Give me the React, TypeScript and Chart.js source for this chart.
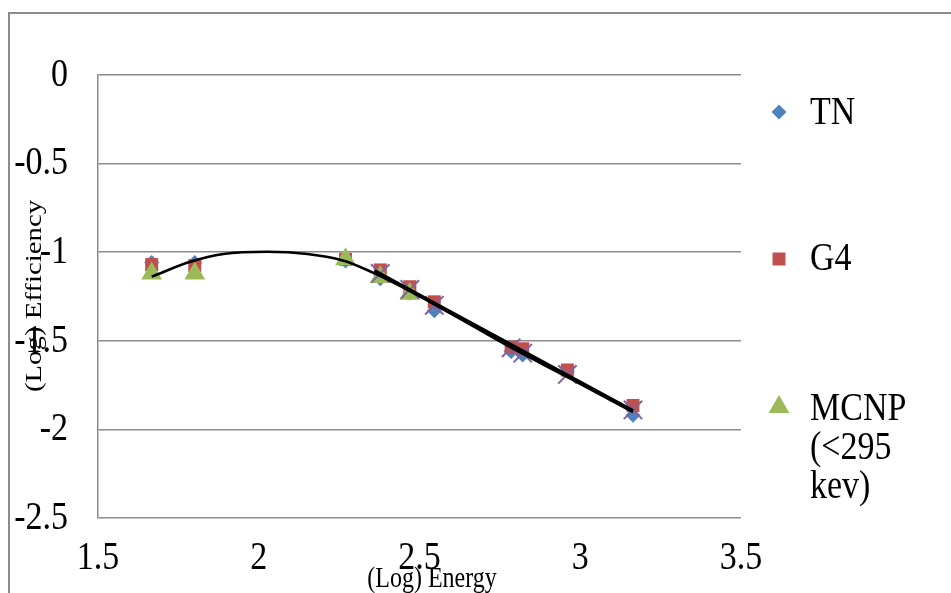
import React, { useEffect, useRef } from "react";
import { Chart, registerables } from "chart.js";

Chart.register(...registerables);

// ---- Data ----
const energyLog = [1.667, 1.801, 2.27, 2.378, 2.47, 2.546, 2.785, 2.821, 2.96, 3.164];
const tnValues = [-1.058, -1.058, -1.05, -1.15, -1.23, -1.33, -1.56, -1.58, -1.67, -1.92];
const g4Values = [-1.07, -1.075, -1.04, -1.1, -1.195, -1.28, -1.535, -1.545, -1.665, -1.865];
const mcnpEnergyLog = [1.667, 1.801, 2.27, 2.378, 2.47];
const mcnpValues = [-1.12, -1.12, -1.04, -1.14, -1.235];
const crossEnergyLog = [2.378, 2.47, 2.546, 2.785, 2.821, 2.96, 3.164];
const crossValues = [-1.12, -1.21, -1.3, -1.54, -1.57, -1.69, -1.89];
const curveEnergyLog = [1.667, 1.787, 1.89, 2.027, 2.151, 2.264, 2.355, 2.439, 2.533, 2.635, 2.781, 2.959, 3.164];
const curveValues = [-1.138, -1.054, -1.01, -0.997, -1.01, -1.048, -1.115, -1.19, -1.282, -1.385, -1.535, -1.704, -1.902];
const lineEnergyLog = [2.36, 3.164];
const lineValues = [-1.105, -1.895];

const xTickValues = [1.5, 2, 2.5, 3, 3.5];
const xTickLabels = ["1.5", "2", "2.5", "3", "3.5"];
const yTickValues = [0, -0.5, -1, -1.5, -2, -2.5];
const yTickLabels = ["0", "-0.5", "-1", "-1.5", "-2", "-2.5"];

const legendLabels = [["TN"], ["G4"], ["MCNP", "(<295", "kev)"]];

const BLUE = "#4F81BD";
const RED = "#C0504D";
const GREEN = "#9BBB59";
const PURPLE = "#8064A2";
const GRID = "#8c8c8c";
const FONT = '"Liberation Serif", "Times New Roman", serif';

const toPoints = (xs: number[], ys: number[]) => xs.map((x, i) => ({ x, y: ys[i] }));

function stretchedText(
  ctx: CanvasRenderingContext2D,
  text: string,
  x: number,
  y: number,
  size: number,
  align: CanvasTextAlign,
  rotate = false
) {
  ctx.save();
  ctx.translate(x, y);
  if (rotate) {
    ctx.rotate(-Math.PI / 2);
    ctx.scale(1.2, 1);
  } else {
    ctx.scale(1, 1.2);
  }
  ctx.font = `${size}px ${FONT}`;
  ctx.fillStyle = "#000";
  ctx.textAlign = align;
  ctx.textBaseline = "middle";
  ctx.fillText(text, 0, 0);
  ctx.restore();
}

const decorPlugin = {
  id: "decor",
  beforeDraw(chart: any) {
    const ctx: CanvasRenderingContext2D = chart.ctx;
    ctx.save();
    ctx.fillStyle = "#fff";
    ctx.fillRect(0, 0, chart.width, chart.height);
    ctx.strokeStyle = GRID;
    ctx.lineWidth = 2;
    ctx.beginPath();
    ctx.moveTo(9, chart.height);
    ctx.lineTo(9, 13);
    ctx.lineTo(chart.width, 13);
    ctx.stroke();
    ctx.restore();
  },
  afterDraw(chart: any) {
    const ctx: CanvasRenderingContext2D = chart.ctx;
    const xs = chart.scales.x;
    const ys = chart.scales.y;
    // tick labels
    yTickValues.forEach((v, i) => {
      stretchedText(ctx, yTickLabels[i], 68, ys.getPixelForValue(v), 34, "right");
    });
    xTickValues.forEach((v, i) => {
      stretchedText(ctx, xTickLabels[i], xs.getPixelForValue(v), 558, 34, "center");
    });
    // axis titles
    stretchedText(ctx, "(Log) Energy", 432, 579, 24, "center");
    stretchedText(ctx, "(Log) Efficiency", 35, 296, 24, "center", true);

    // legend
    const symX = 779;
    const textX = 810;
    ctx.save();
    // diamond
    ctx.fillStyle = BLUE;
    ctx.beginPath();
    ctx.moveTo(symX, 112 - 7.5);
    ctx.lineTo(symX + 7.5, 112);
    ctx.lineTo(symX, 112 + 7.5);
    ctx.lineTo(symX - 7.5, 112);
    ctx.closePath();
    ctx.fill();
    // square
    ctx.fillStyle = RED;
    ctx.fillRect(symX - 6.5, 259 - 6.5, 13, 13);
    // triangle
    ctx.fillStyle = GREEN;
    const ty = 407;
    const r = 12;
    ctx.beginPath();
    ctx.moveTo(symX, ty - r);
    ctx.lineTo(symX + r * 0.866, ty + r / 2);
    ctx.lineTo(symX - r * 0.866, ty + r / 2);
    ctx.closePath();
    ctx.fill();
    ctx.restore();

    stretchedText(ctx, legendLabels[0][0], textX, 113, 34, "left");
    stretchedText(ctx, legendLabels[1][0], textX, 259, 34, "left");
    legendLabels[2].forEach((t, i) => {
      stretchedText(ctx, t, textX, 409 + i * 39, 34, "left");
    });
  },
};

export default function App() {
  const ref = useRef<HTMLCanvasElement>(null);

  useEffect(() => {
    document.body.style.margin = "0";
    const canvas = ref.current;
    if (!canvas) return;
    const chart = new Chart(canvas, {
      type: "scatter",
      data: {
        datasets: [
          {
            label: "Poly trend",
            data: toPoints(curveEnergyLog, curveValues),
            showLine: true,
            borderColor: "#000",
            borderWidth: 2.5,
            pointRadius: 0,
            cubicInterpolationMode: "monotone",
            order: 0,
          } as any,
          {
            label: "Linear trend",
            data: toPoints(lineEnergyLog, lineValues),
            showLine: true,
            borderColor: "#000",
            borderWidth: 3.5,
            pointRadius: 0,
            order: 1,
          },
          {
            label: "Series 4",
            data: toPoints(crossEnergyLog, crossValues),
            pointStyle: "crossRot",
            pointRadius: 13,
            borderColor: PURPLE,
            borderWidth: 2,
            backgroundColor: PURPLE,
            order: 2,
          },
          {
            label: "MCNP (<295 kev)",
            data: toPoints(mcnpEnergyLog, mcnpValues),
            pointStyle: "triangle",
            pointRadius: 12,
            backgroundColor: GREEN,
            borderColor: GREEN,
            borderWidth: 0,
            order: 3,
          },
          {
            label: "G4",
            data: toPoints(energyLog, g4Values),
            pointStyle: "rect",
            pointRadius: 9.2,
            backgroundColor: RED,
            borderColor: RED,
            borderWidth: 0,
            order: 4,
          },
          {
            label: "TN",
            data: toPoints(energyLog, tnValues),
            pointStyle: "rectRot",
            pointRadius: 7.5,
            backgroundColor: BLUE,
            borderColor: BLUE,
            borderWidth: 0,
            order: 5,
          },
        ],
      },
      options: {
        animation: false,
        responsive: false,
        devicePixelRatio: 1,
        events: [],
        layout: { padding: { left: 0, top: 75, right: 210, bottom: 0 } },
        plugins: {
          legend: { display: false },
          tooltip: { enabled: false },
          title: { display: false },
        },
        scales: {
          x: {
            type: "linear",
            min: 1.5,
            max: 3.5,
            ticks: { stepSize: 0.5, display: false },
            grid: { display: false },
            border: { display: false },
            afterFit: (s: any) => {
              s.height = 75;
            },
          },
          y: {
            type: "linear",
            min: -2.5,
            max: 0,
            ticks: { stepSize: 0.5, display: false },
            grid: { color: GRID, lineWidth: 1.5, drawTicks: false },
            border: { display: true, color: GRID, width: 1.5 },
            afterFit: (s: any) => {
              s.width = 98;
            },
          },
        },
      },
      plugins: [decorPlugin],
    });
    return () => chart.destroy();
  }, []);

  return (
    <div style={{ width: 951, height: 593, position: "relative" }}>
      <canvas ref={ref} width={951} height={593} style={{ display: "block" }} />
    </div>
  );
}
